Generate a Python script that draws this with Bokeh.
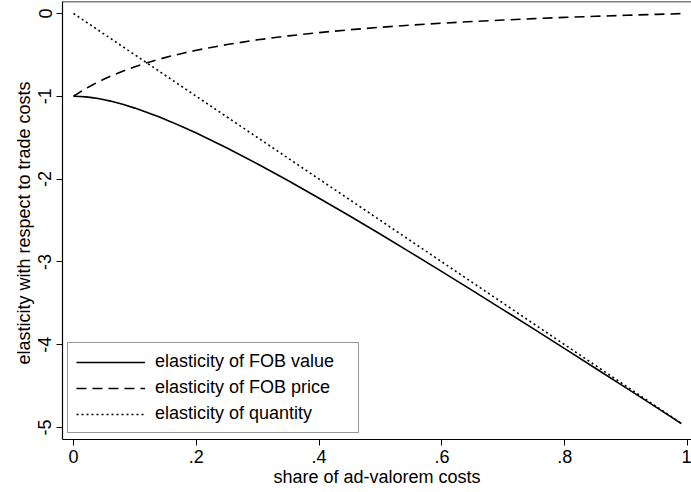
from bokeh.plotting import figure
from bokeh.models import Range1d, FixedTicker, Legend, LegendItem, Span
from bokeh.embed import file_html
from bokeh.resources import INLINE

# share of ad-valorem costs
share = [0, 0.01, 0.02, 0.03, 0.04, 0.05, 0.06, 0.08, 0.10, 0.12, 0.14, 0.16, 0.18, 0.20,
         0.25, 0.30, 0.35, 0.40, 0.45, 0.50, 0.55, 0.60, 0.65, 0.70, 0.75, 0.80, 0.85,
         0.90, 0.95, 0.99]
elast_fob_value = [-1.0, -1.0019, -1.0074, -1.0161, -1.0276, -1.0417, -1.0581, -1.0970,
                   -1.1429, -1.1946, -1.2513, -1.3122, -1.3767, -1.4444, -1.625, -1.8182,
                   -2.0208, -2.2308, -2.4464, -2.6667, -2.8906, -3.1176, -3.3472, -3.5789,
                   -3.8125, -4.0476, -4.2841, -4.5217, -4.7604, -4.9520]
elast_fob_price = [-1.0, -0.9519, -0.9074, -0.8661, -0.8276, -0.7917, -0.7581, -0.6970,
                   -0.6429, -0.5946, -0.5513, -0.5122, -0.4767, -0.4444, -0.375, -0.3182,
                   -0.2708, -0.2308, -0.1964, -0.1667, -0.1406, -0.1176, -0.0972, -0.0789,
                   -0.0625, -0.0476, -0.0341, -0.0217, -0.0104, -0.0020]
elast_quantity = [0, -0.05, -0.1, -0.15, -0.2, -0.25, -0.3, -0.4, -0.5, -0.6, -0.7, -0.8,
                  -0.9, -1.0, -1.25, -1.5, -1.75, -2.0, -2.25, -2.5, -2.75, -3.0, -3.25,
                  -3.5, -3.75, -4.0, -4.25, -4.5, -4.75, -4.95]

series_labels = ["elasticity of FOB value", "elasticity of FOB price", "elasticity of quantity"]

x_ticks = [0, 0.2, 0.4, 0.6, 0.8, 1.0]
x_tick_labels = ["0", ".2", ".4", ".6", ".8", "1"]
y_ticks = [0, -1, -2, -3, -4, -5]
y_tick_labels = ["0", "-1", "-2", "-3", "-4", "-5"]

FONT = "Liberation Sans"
FS = "18px"

p = figure(width=691, height=492, output_backend="svg", toolbar_location=None,
           x_range=Range1d(-0.01792, 1.00651), y_range=Range1d(-5.1446, 0.1446),
           min_border_left=62, min_border_right=0, min_border_top=1, min_border_bottom=53,
           x_axis_label="share of ad-valorem costs",
           y_axis_label="elasticity with respect to  trade costs")
p.outline_line_color = None
p.grid.visible = False
p.background_fill_color = "white"
p.border_fill_color = "white"

r1 = p.line(share, elast_fob_value, line_color="black", line_width=1.6)
r2 = p.line(share, elast_fob_price, line_color="black", line_width=1.6, line_dash="10 6")
r3 = p.line(share, elast_quantity, line_color="black", line_width=1.6, line_dash="2 3")

p.add_layout(Span(location=0.1446, dimension="width", line_color="black", line_width=1.5))

for ax in (p.xaxis[0], p.yaxis[0]):
    ax.axis_line_color = "black"
    ax.axis_line_width = 1.2
    ax.major_tick_line_color = "black"
    ax.major_tick_in = 0
    ax.major_tick_out = 6
    ax.minor_tick_line_color = None
    ax.major_label_text_font = FONT
    ax.major_label_text_font_size = FS
    ax.major_label_text_color = "black"
    ax.axis_label_text_font = FONT
    ax.axis_label_text_font_size = FS
    ax.axis_label_text_font_style = "normal"
    ax.axis_label_text_color = "black"

p.xaxis[0].ticker = FixedTicker(ticks=x_ticks)
p.xaxis[0].major_label_overrides = dict(zip(x_ticks, x_tick_labels))
p.xaxis[0].major_label_standoff = 4
p.xaxis[0].axis_label_standoff = 1

p.yaxis[0].ticker = FixedTicker(ticks=y_ticks)
p.yaxis[0].major_label_overrides = dict(zip(y_ticks, y_tick_labels))
p.yaxis[0].major_label_orientation = "vertical"
p.yaxis[0].major_label_standoff = 5
p.yaxis[0].axis_label_standoff = 2

legend = Legend(items=[LegendItem(label=series_labels[0], renderers=[r1]),
                       LegendItem(label=series_labels[1], renderers=[r2]),
                       LegendItem(label=series_labels[2], renderers=[r3])],
                location=(5, 6), orientation="vertical",
                glyph_width=69, glyph_height=20, label_height=20, label_width=195,
                label_standoff=10, spacing=5, padding=8, margin=0,
                label_text_font=FONT, label_text_font_size=FS, label_text_color="black",
                border_line_color="#333333", border_line_width=1.5,
                background_fill_color="white", background_fill_alpha=1.0)
p.add_layout(legend, "center")

open("out.html", "w").write(file_html(p, INLINE))
